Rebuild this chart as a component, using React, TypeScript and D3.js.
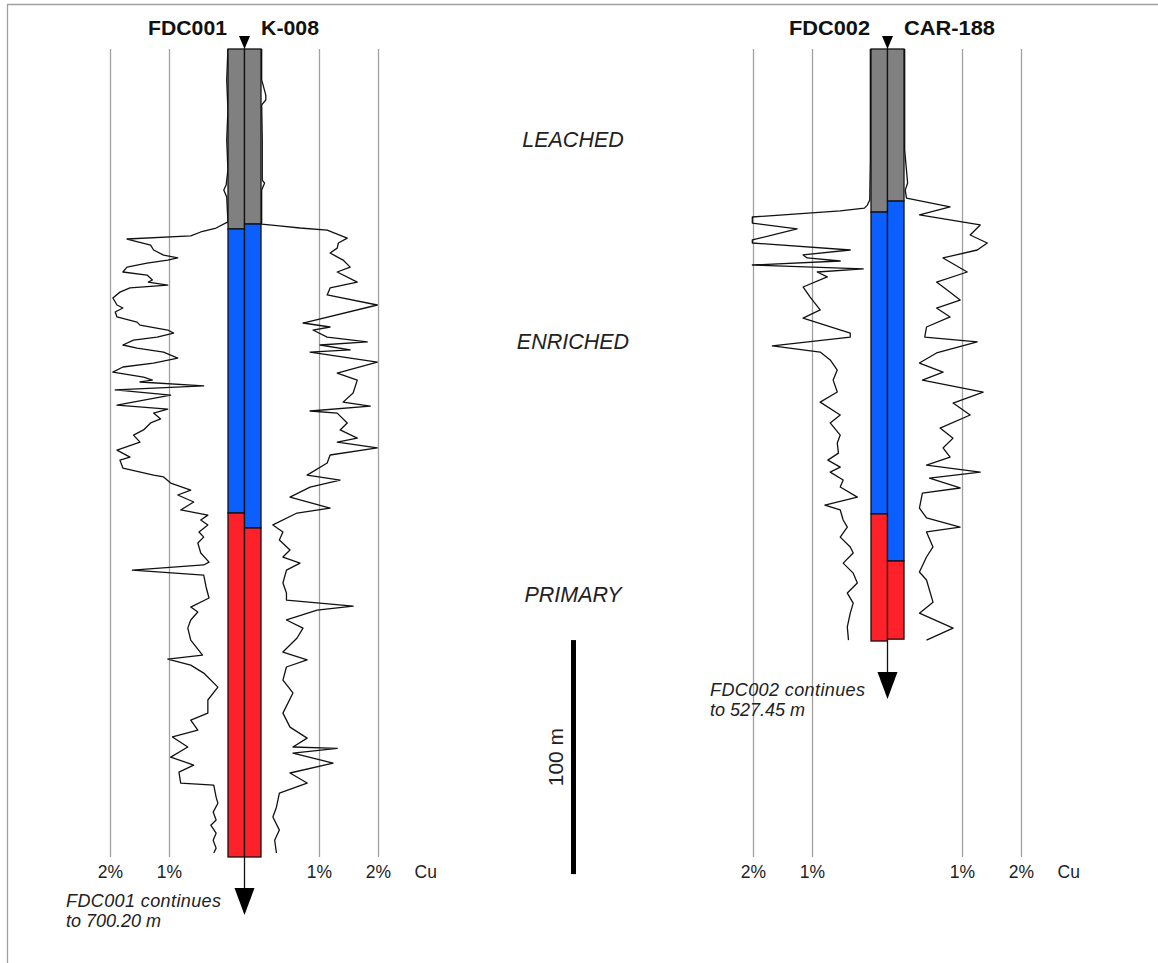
import * as d3 from "d3";

const W = 1158;
const H = 963;

const holeNames = ["FDC001", "K-008", "FDC002", "CAR-188"];
const zoneNames = ["LEACHED", "ENRICHED", "PRIMARY"];
const zoneColors = ["#808080", "#0b5fff", "#ff2129"];
const zoneLabelDepths = [41.9, 128.2, 236.3];
const gradeTicks = [1, 2];
const gradeTickLabels = ["1%", "2%"];
const gridBottom = 345.3;

// base depth (m) of leached, enriched and primary intervals
const fdc001Zones = [76.9, 198.3, 345.3];
const k008Zones = [74.8, 204.7, 345.3];
const fdc002Zones = [69.7, 198.7, 253.0];
const car188Zones = [65.0, 218.8, 252.2];

// Cu grade logs: [depth m, Cu %]
const fdc001Cu: [number, number][] = [
  [0, 0.01], [13.2, 0.03], [26.1, 0.01], [38.9, 0.03], [51.7, 0.01], [58.1, 0.04], [60.3, 0.08],
  [63.3, 0.03], [73.9, 0.01], [76.5, 0.21], [78.2, 0.47], [79.9, 0.64], [81.2, 1.72], [83.8, 1.32],
  [85.9, 1.27], [88.1, 1.1], [89.3, 0.86], [90.2, 1.03], [91.5, 1.38], [93.2, 1.72], [95.3, 1.79],
  [96.6, 1.38], [98.7, 1.29], [99.6, 1.36], [100.9, 1.03], [102.1, 1.67], [103.9, 1.84], [106.4, 1.96],
  [109.4, 1.89], [110.7, 1.79], [112.4, 1.92], [114.5, 1.89], [116.7, 1.55], [118.0, 1.5], [120.1, 1.03],
  [121.4, 0.93], [123.1, 1.21], [124.4, 1.61], [126.5, 1.79], [127.8, 1.55], [129.5, 1.1], [132.1, 0.86],
  [134.2, 1.27], [135.9, 1.79], [138.1, 1.96], [140.2, 1.44], [141.5, 1.29], [142.3, 1.5], [144.0, 0.42],
  [145.7, 1.92], [147.9, 0.98], [152.2, 1.89], [153.9, 1.03], [155.6, 1.27], [158.1, 1.15], [159.8, 1.32],
  [162.8, 1.44], [165.0, 1.61], [168.0, 1.5], [171.4, 1.89], [174.4, 1.67], [175.7, 1.84], [179.1, 1.79],
  [182.1, 1.27], [182.9, 1.1], [185.5, 0.98], [188.5, 0.64], [190.6, 0.86], [193.6, 0.59], [197.0, 0.81],
  [199.2, 0.35], [201.3, 0.47], [203.4, 0.35], [206.4, 0.5], [208.6, 0.42], [211.1, 0.52], [215.4, 0.47],
  [219.3, 0.33], [220.5, 0.42], [222.7, 1.63], [224.8, 0.42], [229.9, 0.38], [234.6, 0.33], [238.5, 0.64],
  [240.6, 0.52], [244.0, 0.64], [247.5, 0.69], [252.6, 0.64], [259.0, 0.44], [260.7, 1.03], [263.3, 0.64],
  [266.7, 0.42], [272.7, 0.18], [278.2, 0.35], [283.8, 0.35], [286.8, 0.64], [291.1, 0.52], [294.0, 0.95],
  [298.3, 0.69], [302.6, 0.98], [306.0, 0.59], [309.0, 0.84], [313.7, 0.81], [314.6, 0.25], [319.7, 0.21],
  [322.3, 0.18], [326.1, 0.26], [329.5, 0.21], [331.7, 0.3], [335.1, 0.21], [338.1, 0.26], [341.5, 0.21],
  [343.6, 0.25],
];

const k008Cu: [number, number][] = [
  [0, 0.02], [13.2, 0.02], [19.7, 0.09], [21.8, 0.09], [23.9, 0.02], [38.9, 0.03], [56.0, 0.03],
  [57.3, 0.07], [60.3, 0.02], [74.8, 0.02], [75.6, 0.32], [76.5, 0.67], [77.4, 1.13], [80.8, 1.47],
  [82.9, 1.32], [85.1, 1.3], [87.2, 1.18], [90.2, 1.4], [93.2, 1.52], [95.3, 1.3], [99.6, 1.64],
  [102.1, 1.18], [105.1, 1.13], [109.4, 1.98], [117.1, 0.72], [118.8, 1.18], [120.1, 0.89], [123.1, 1.13],
  [125.2, 1.81], [126.5, 1.01], [128.6, 1.52], [129.5, 0.84], [133.8, 1.98], [138.5, 1.3], [141.5, 1.64],
  [147.0, 1.57], [150.9, 1.4], [152.6, 1.86], [154.7, 0.84], [155.6, 1.3], [159.8, 1.47], [162.8, 1.35],
  [166.3, 1.64], [168.0, 1.3], [170.5, 1.98], [173.5, 1.18], [176.9, 1.13], [182.1, 0.79], [184.2, 1.35],
  [187.2, 0.84], [191.5, 0.5], [196.2, 1.18], [198.3, 0.62], [203.4, 0.21], [206.4, 0.38], [209.8, 0.32],
  [214.1, 0.5], [217.1, 0.38], [219.7, 0.67], [222.7, 0.44], [228.2, 0.38], [232.5, 0.44], [235.5, 0.44],
  [238.1, 1.57], [239.8, 0.96], [244.0, 0.44], [247.5, 0.72], [251.7, 0.62], [257.7, 0.38], [261.1, 0.79],
  [264.1, 0.44], [269.7, 0.38], [275.2, 0.55], [283.8, 0.38], [289.8, 0.5], [294.5, 0.79], [298.3, 0.55],
  [298.9, 1.3], [300.9, 0.55], [305.2, 1.23], [309.4, 0.5], [313.7, 0.79], [318.0, 0.32], [324.0, 0.27],
  [328.2, 0.21], [333.8, 0.32], [338.1, 0.24], [343.6, 0.27],
];

const fdc002Cu: [number, number][] = [
  [0, 0.02], [21.8, 0.02], [47.4, 0.02], [64.5, 0.03], [66.7, 0.07], [68.0, 0.12], [69.2, 0.53],
  [71.8, 2.02], [74.4, 2.02], [76.9, 1.26], [81.6, 2.02], [82.9, 2.02], [85.9, 0.36], [88.0, 1.16],
  [89.3, 1.09], [90.6, 0.53], [92.3, 2.02], [94.0, 0.14], [95.3, 0.92], [97.4, 0.75], [101.7, 1.16],
  [106.0, 1.04], [111.5, 0.87], [115.0, 1.16], [121.4, 0.36], [123.1, 0.36], [126.9, 1.68], [129.5, 0.87],
  [132.9, 0.7], [137.2, 0.58], [141.5, 0.65], [146.6, 0.58], [150.9, 0.87], [156.4, 0.53], [159.8, 0.7],
  [165.0, 0.53], [168.4, 0.58], [172.7, 0.56], [175.7, 0.74], [178.7, 0.53], [180.8, 0.7], [184.2, 0.48],
  [187.2, 0.53], [191.5, 0.24], [194.9, 0.79], [197.0, 0.53], [201.3, 0.48], [204.3, 0.41], [208.6, 0.53],
  [212.8, 0.36], [215.4, 0.31], [219.7, 0.48], [224.0, 0.31], [228.2, 0.24], [232.5, 0.41], [236.8, 0.31],
  [241.1, 0.36], [247.0, 0.41], [252.6, 0.39],
];

const car188Cu: [number, number][] = [
  [0, 0.02], [15.4, 0.02], [30.3, 0.02], [43.2, 0.02], [57.3, 0.07], [60.3, 0.03], [63.7, 0.05],
  [67.5, 0.79], [70.9, 0.27], [75.2, 1.3], [79.5, 1.13], [82.9, 1.42], [85.9, 1.25], [89.3, 0.67],
  [95.3, 1.08], [99.6, 0.56], [103.0, 0.74], [107.3, 0.96], [110.7, 0.56], [114.5, 0.79], [118.8, 0.39],
  [123.1, 0.36], [125.2, 1.25], [129.9, 0.56], [134.2, 0.27], [138.1, 0.67], [141.5, 0.32], [146.6, 1.35],
  [151.3, 0.84], [156.4, 1.13], [162.0, 0.62], [166.3, 0.84], [170.5, 0.67], [174.4, 0.79], [177.8, 0.39],
  [180.8, 1.3], [183.4, 0.44], [187.6, 0.96], [189.8, 0.32], [196.2, 0.27], [200.4, 0.39], [204.3, 0.96],
  [206.4, 0.39], [212.8, 0.5], [217.1, 0.39], [223.5, 0.27], [226.9, 0.39], [236.4, 0.5], [241.1, 0.27],
  [247.5, 0.84], [252.6, 0.39],
];

const noteLines1 = ["FDC001 continues", "to 700.20 m"];
const noteLines2 = ["FDC002 continues", "to 527.45  m"];
const scaleBarTop = 252.6;
const scaleBarLength = 100;

const FONT = "'Liberation Sans', Arial, Helvetica, sans-serif";

type Hole = { name: string; zones: number[]; cu: [number, number][]; labelW: number };
type Panel = { center: number; left: Hole; right: Hole; note: string[]; noteX: number; noteY: number; noteGap: number };

const y = d3.scaleLinear().domain([0, 100]).range([49, 283]);

function Trace({ hole, side, center }: { hole: Hole; side: -1 | 1; center: number }) {
  const x = d3.scaleLinear().domain([0, 2]).range([center + side * 16, center + side * 134]);
  const line = d3
    .line<[number, number]>()
    .x((d) => x(d[1]))
    .y((d) => y(d[0]));
  return <path d={line(hole.cu) ?? ""} fill="none" stroke="#111" strokeWidth={1.3} strokeLinejoin="round" />;
}

function Bar({ hole, x0, w }: { hole: Hole; x0: number; w: number }) {
  let prev = 0;
  return (
    <g>
      {hole.zones.map((z, i) => {
        const r = (
          <rect
            key={i}
            x={x0}
            y={y(prev)}
            width={w}
            height={y(z) - y(prev)}
            fill={zoneColors[i]}
            stroke="#111"
            strokeWidth={1.3}
          />
        );
        prev = z;
        return r;
      })}
    </g>
  );
}

function PanelView({ p }: { p: Panel }) {
  const c = p.center;
  const xl = d3.scaleLinear().domain([0, 2]).range([c - 16, c - 134]);
  const xr = d3.scaleLinear().domain([0, 2]).range([c + 16, c + 134]);
  const bottom = y(Math.max(d3.max(p.left.zones)!, d3.max(p.right.zones)!));
  const bw = 16.5;
  const tickY = y(gridBottom) + 21;
  return (
    <g>
      {gradeTicks.map((t) => (
        <g key={t}>
          <line x1={xl(t)} x2={xl(t)} y1={y(0)} y2={y(gridBottom)} stroke="#a0a0a0" strokeWidth={1.3} />
          <line x1={xr(t)} x2={xr(t)} y1={y(0)} y2={y(gridBottom)} stroke="#a0a0a0" strokeWidth={1.3} />
        </g>
      ))}
      {gradeTicks.map((t, i) => (
        <g key={"l" + t} fontSize={17.5} fill="#222" textAnchor="middle">
          <text x={xl(t)} y={tickY}>{gradeTickLabels[i]}</text>
          <text x={xr(t)} y={tickY}>{gradeTickLabels[i]}</text>
        </g>
      ))}
      <text x={c + 170} y={tickY} fontSize={17.5} fill="#222">Cu</text>

      <Trace hole={p.left} side={-1} center={c} />
      <Trace hole={p.right} side={1} center={c} />

      <Bar hole={p.left} x0={c - bw} w={bw} />
      <Bar hole={p.right} x0={c} w={bw} />

      <path d={`M${c - 5.5},${y(0) - 13}L${c + 5.5},${y(0) - 13}L${c},${y(0)}Z`} fill="#000" />
      <text
        x={c - 17.5 - p.left.labelW}
        y={35}
        fontWeight="bold"
        fontSize={21}
        fill="#111"
        textLength={p.left.labelW}
        lengthAdjust="spacingAndGlyphs"
      >
        {p.left.name}
      </text>
      <text
        x={c + 16.5}
        y={35}
        fontWeight="bold"
        fontSize={21}
        fill="#111"
        textLength={p.right.labelW}
        lengthAdjust="spacingAndGlyphs"
      >
        {p.right.name}
      </text>

      <line x1={c} x2={c} y1={bottom} y2={bottom + 32} stroke="#111" strokeWidth={1.3} />
      <path d={`M${c - 10},${bottom + 31}L${c + 10},${bottom + 31}L${c},${bottom + 58}Z`} fill="#000" />

      <g fontStyle="italic" fontSize={18} fill="#222" style={{ whiteSpace: "pre" }}>
        {p.note.map((s, i) => (
          <text key={i} x={p.noteX} y={p.noteY + i * p.noteGap} textLength={i === 0 ? 155 : undefined}>
            {s}
          </text>
        ))}
      </g>
    </g>
  );
}

export default function App() {
  const panels: Panel[] = [
    {
      center: 244.5,
      left: { name: holeNames[0], zones: fdc001Zones, cu: fdc001Cu, labelW: 79 },
      right: { name: holeNames[1], zones: k008Zones, cu: k008Cu, labelW: 58 },
      note: noteLines1,
      noteX: 66,
      noteY: 907,
      noteGap: 19.5,
    },
    {
      center: 887.5,
      left: { name: holeNames[2], zones: fdc002Zones, cu: fdc002Cu, labelW: 81 },
      right: { name: holeNames[3], zones: car188Zones, cu: car188Cu, labelW: 91 },
      note: noteLines2,
      noteX: 710,
      noteY: 696,
      noteGap: 19.5,
    },
  ];
  const sbX = 573.5;
  const sbTop = y(scaleBarTop);
  const sbBot = y(scaleBarTop + scaleBarLength);
  return (
    <svg
      width={W}
      height={H}
      style={{ position: "absolute", left: 0, top: 0, background: "#fff" }}
      fontFamily={FONT}
    >
      <line x1={7} x2={W} y1={4.5} y2={4.5} stroke="#a0a0a0" strokeWidth={1.3} />
      <line x1={7.5} x2={7.5} y1={4} y2={H} stroke="#a0a0a0" strokeWidth={1.3} />

      {panels.map((p, i) => (
        <PanelView key={i} p={p} />
      ))}

      <g fontStyle="italic" fontSize={21.5} fill="#222" textAnchor="middle">
        {zoneNames.map((z, i) => (
          <text key={z} x={573} y={y(zoneLabelDepths[i])}>{z}</text>
        ))}
      </g>

      <rect x={sbX - 2.5} y={sbTop} width={5} height={sbBot - sbTop} fill="#000" />
      <text
        transform={`translate(563,${(sbTop + sbBot) / 2}) rotate(-90)`}
        textAnchor="middle"
        fontSize={21}
        fill="#222"
      >
        100 m
      </text>
    </svg>
  );
}
